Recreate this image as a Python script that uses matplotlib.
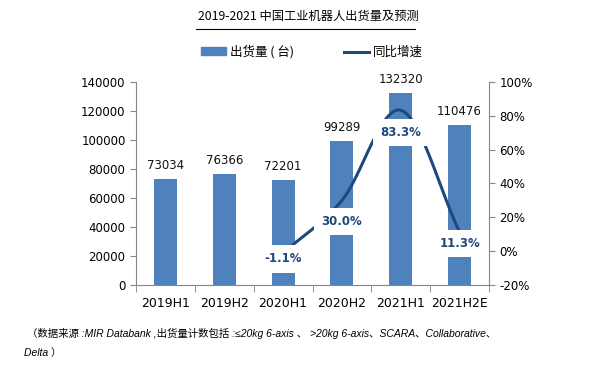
import numpy as np
import matplotlib
matplotlib.use('Agg')
import matplotlib.pyplot as plt
from matplotlib.patches import Patch
from matplotlib.lines import Line2D

plt.rcParams['font.family'] = ['Noto Sans CJK SC', 'DejaVu Sans']

periods = ['2019H1', '2019H2', '2020H1', '2020H2', '2021H1', '2021H2E']
shipments = [73034, 76366, 72201, 99289, 132320, 110476]
growth_periods = ['2020H1', '2020H2', '2021H1', '2021H2E']
growth = [-1.1, 30.0, 83.3, 11.3]

bar_color = '#4F81BD'
line_color = '#1F497D'
axis_color = '#868686'
num_font = ['DejaVu Sans', 'Noto Sans CJK SC']
note_font = ['Liberation Sans', 'Noto Sans CJK SC']


def catmull_rom(xs, ys, n=30):
    # smooth the line the same way the spreadsheet does
    xs = np.asarray(xs, float)
    ys = np.asarray(ys, float)
    px = np.r_[2 * xs[0] - xs[1], xs, 2 * xs[-1] - xs[-2]]
    py = np.r_[2 * ys[0] - ys[1], ys, 2 * ys[-1] - ys[-2]]
    out_x, out_y = [], []
    for i in range(1, len(px) - 2):
        t = np.linspace(0, 1, n)
        for p, out in ((px, out_x), (py, out_y)):
            p0, p1, p2, p3 = p[i - 1], p[i], p[i + 1], p[i + 2]
            out.extend(0.5 * ((2 * p1) + (-p0 + p2) * t +
                              (2 * p0 - 5 * p1 + 4 * p2 - p3) * t ** 2 +
                              (-p0 + 3 * p1 - 3 * p2 + p3) * t ** 3))
    return np.array(out_x), np.array(out_y)


fig = plt.figure(figsize=(6.09, 3.71), dpi=100)
ax = fig.add_axes([0.2233, 0.2318, 0.5797, 0.5472])
x = np.arange(len(periods))
ax.bar(x, shipments, width=0.39, color=bar_color, zorder=2)
for xi, v in zip(x, shipments):
    ax.annotate(str(v), (xi, v), xytext=(0, 5), textcoords='offset points',
                ha='center', va='bottom', fontsize=8.5, family=num_font, color='#111111')

ax.set_xlim(-0.5, len(periods) - 0.5)
ax.set_ylim(0, 140000)
ax.set_yticks(np.arange(0, 140001, 20000))
ax.set_xticks(x)
ax.set_xticklabels(periods, fontsize=9, family=num_font)
for lb in ax.get_yticklabels():
    lb.set_family(num_font)
ax.set_xticks(np.arange(-0.5, len(periods), 1), minor=True)
ax.tick_params(axis='x', which='major', length=0, pad=8.5)
ax.tick_params(axis='x', which='minor', length=5, color=axis_color, direction='out')
ax.tick_params(axis='y', labelsize=8.5, length=4, color=axis_color)
for s in ['top', 'right']:
    ax.spines[s].set_visible(False)
for s in ['left', 'bottom']:
    ax.spines[s].set_color(axis_color)

ax2 = ax.twinx()
gx = [periods.index(p) for p in growth_periods]
sx, sy = catmull_rom(gx, growth)
ax2.plot(sx, sy, color=line_color, lw=2.2, zorder=3)
ax2.set_ylim(-20, 100)
ax2.set_yticks(np.arange(-20, 101, 20))
ax2.set_yticklabels([f'{v}%' for v in range(-20, 101, 20)], fontsize=8.5, family=num_font)
ax2.tick_params(axis='y', length=4, color=axis_color)
for s in ['top', 'left', 'bottom']:
    ax2.spines[s].set_visible(False)
ax2.spines['right'].set_color(axis_color)

label_offsets = [-3.5, -12.7, -13.3, -7]
for xi, g, off in zip(gx, growth, label_offsets):
    ax2.text(xi, g + off, f'{g:.1f}%', ha='center', va='center', fontsize=8.5,
             family=num_font, fontweight='bold', color=line_color, zorder=5,
             bbox=dict(boxstyle='square,pad=0.6', fc='white', ec='none'))

fig.text(0.506, 0.955, '2019-2021 中国工业机器人出货量及预测', ha='center', va='center',
         fontsize=8.8, color='black')
fig.add_artist(Line2D([0.322, 0.682], [0.922, 0.922], color='black', lw=0.8))

handles = [Patch(color=bar_color), Line2D([0], [0], color=line_color, lw=2.2)]
fig.legend(handles, ['出货量 ( 台)', '同比增速'], loc='center', bbox_to_anchor=(0.512, 0.86),
           ncol=2, frameon=False, fontsize=9, columnspacing=4, handlelength=2.0,
           handleheight=0.6, handletextpad=0.3)

fig.text(0.044, 0.102, '（数据来源 :MIR Databank ,出货量计数包括 :≤20kg 6-axis 、 >20kg 6-axis、SCARA、Collaborative、',
         fontsize=7.5, style='italic', family=note_font, ha='left', va='center')
fig.text(0.04, 0.048, 'Delta ）', fontsize=7.5, style='italic', family=note_font,
         ha='left', va='center')

fig.savefig('out.png', dpi=100)
